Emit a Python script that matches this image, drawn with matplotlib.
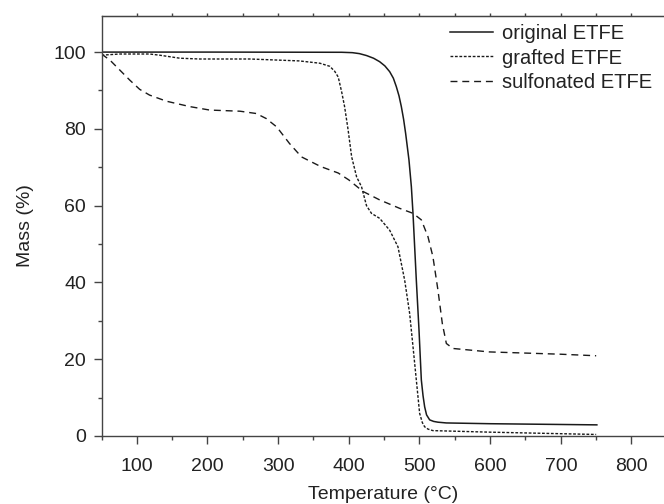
import matplotlib
matplotlib.use("Agg")
import matplotlib.pyplot as plt
from matplotlib.ticker import MultipleLocator

plt.rcParams["font.family"] = ["Liberation Sans", "DejaVu Sans"]

# original ETFE
orig_t = [50, 200, 390, 405, 415, 425, 435, 443.6, 451, 457.8, 463, 467.2, 471,
          474.3, 477.5, 480.4, 485.1, 488.5, 490.8, 495.5, 499.3, 502.6, 505,
          507.3, 510, 514.4, 520, 526, 538, 600, 751]
orig_m = [100, 100, 99.95, 99.85, 99.6, 99.1, 98.4, 97.5, 96.4, 94.9, 93.2, 91,
          88.6, 85.8, 82.5, 78.8, 71.9, 64.9, 58, 40.6, 27.6, 14.6, 10.5, 7.6,
          5.5, 4.2, 3.8, 3.6, 3.4, 3.2, 2.9]

# grafted ETFE
graft_t = [50, 76, 118, 132, 161, 189, 260, 330, 359, 373, 380, 385, 390, 394, 399,
           404, 411, 418, 425, 432, 443.6, 457.8, 469.5, 479, 486, 490.8, 495.5,
           500.2, 504, 507.3, 512, 519, 600, 750]
graft_m = [99.2, 99.5, 99.5, 99.2, 98.4, 98.2, 98.2, 97.7, 97.1, 96.3, 95, 93.5,
           89.5, 85.8, 79.7, 72.7, 67.5, 64.9, 60, 58, 56.7, 53.6, 49.3, 40.6, 32,
           23.3, 14.6, 5.9, 3.5, 2.4, 1.8, 1.4, 1.0, 0.4]

# sulfonated ETFE
sulf_t = [50, 62, 76, 90, 104, 118, 142, 175, 203, 246, 269, 283, 298, 316, 333,
          360, 385, 400, 420, 443.6, 471.9, 490.8, 502.6, 512, 519, 526.1, 532.3,
          538, 547.3, 599, 650, 700, 750]
sulf_m = [99.5, 97.9, 95.3, 92.7, 90.3, 88.8, 87.2, 85.8, 84.9, 84.6, 84, 82.7,
          80.5, 76.2, 72.7, 70.2, 68.5, 66.7, 63.7, 61.5, 59.3, 58, 56.3, 51.9,
          46.7, 38, 29.3, 24.1, 22.8, 21.9, 21.6, 21.3, 20.9]

fig = plt.figure(figsize=(6.64, 5.04), dpi=100)
ax = fig.add_axes([101.5 / 664, 1 - 436 / 504, 1 - 101.5 / 664, (436 - 16) / 504])

lc = "#1a1a1a"
ax.plot(orig_t, orig_m, color=lc, lw=1.1, ls="-", label="original ETFE")
ax.plot(graft_t, graft_m, color=lc, lw=1.0, ls=(0, (2, 1.2)), label="grafted ETFE")
ax.plot(sulf_t, sulf_m, color=lc, lw=1.0, ls=(0, (5, 3.5)), label="sulfonated ETFE")

ax.set_xlim(50, 846)
ax.set_ylim(0, 109.4)
ax.set_xticks(range(100, 801, 100))
ax.xaxis.set_minor_locator(MultipleLocator(50))
ax.yaxis.set_major_locator(MultipleLocator(20))
ax.yaxis.set_minor_locator(MultipleLocator(10))

sc = "#444444"
for s in ["left", "bottom", "top"]:
    ax.spines[s].set_color(sc)
    ax.spines[s].set_linewidth(1.0)
ax.spines["right"].set_visible(False)

ax.tick_params(which="major", direction="out", length=6, width=1, color=sc,
               labelsize=14, labelcolor="#222222", pad=5)
ax.tick_params(which="minor", direction="out", length=3, width=1, color=sc)
ax.tick_params(axis="x", which="major", pad=10)

# tiny ticks on the top spine
top = ax.secondary_xaxis("top")
top.set_xticks(range(100, 801, 50))
top.tick_params(direction="out", length=2, width=1, color=sc, labeltop=False)
top.spines["top"].set_color(sc)

ax.set_xlabel("Temperature (°C)", fontsize=14, color="#222222", labelpad=8)
ax.set_ylabel("Mass (%)", fontsize=14, color="#222222", labelpad=14)

leg = ax.legend(loc="upper right", bbox_to_anchor=(1.0, 1.01), frameon=False,
                fontsize=14.5, handlelength=2.1, handletextpad=0.45, labelspacing=0.28,
                borderaxespad=0.2)
for t in leg.get_texts():
    t.set_color("#222222")

fig.savefig("out.png", dpi=100)
